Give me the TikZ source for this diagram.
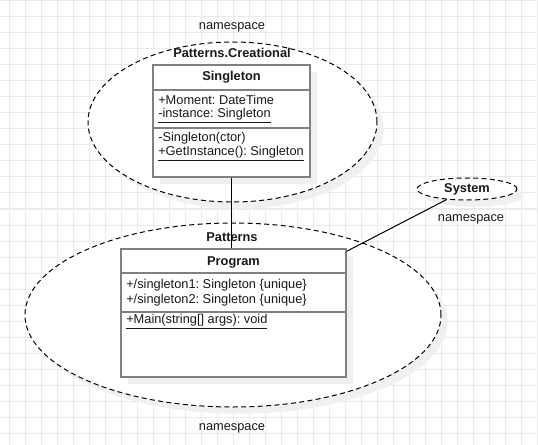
\documentclass[tikz,border=0pt]{standalone}
\usepackage{fontspec}
\setmainfont{Liberation Sans}
\usepackage{tikz}
\usetikzlibrary{shapes,shadows,positioning}

\begin{document}
\frenchspacing
\begin{tikzpicture}[x=0.75pt,y=-0.75pt,font=\fontsize{9.6}{11.5}\selectfont]
  \tikzstyle{grid line}=[draw=black!8,line width=0.75pt]
  \tikzstyle{package}=[ellipse,draw=black,line width=0.75pt,dash pattern=on 3.75pt off 2.5pt,
                       fill=white,inner sep=0pt,
                       drop shadow={shadow xshift=5pt,shadow yshift=-5pt,fill=black!6,opacity=1}]
  \tikzstyle{class box}=[rectangle,draw=black!50,line width=1.1pt,fill=white,inner sep=0pt,
                         drop shadow={shadow xshift=5pt,shadow yshift=-5pt,fill=black!6,opacity=1}]
  \tikzstyle{class line}=[draw=black!50,line width=1.1pt]
  \tikzstyle{member}=[anchor=west,inner sep=0pt,text=black!90]
  \tikzstyle{title}=[inner sep=0pt,text=black!90,font=\fontsize{9.6}{11.5}\selectfont\bfseries]
  \tikzstyle{caption}=[inner sep=0pt,text=black!90]
  \tikzstyle{link}=[draw=black,line width=0.75pt]

  \useasboundingbox (0,0) rectangle (538,445);
  \fill[white] (0,0) rectangle (538,445);
  \foreach \gx in {9,25,...,537}
    \draw[grid line] (\gx,0) -- (\gx,445);
  \foreach \gy in {1,17,...,441}
    \draw[grid line] (0,\gy) -- (538,\gy);

  % namespaces
  \node [package,minimum width=216.75pt,minimum height=120pt] (creational) at (232.5,122) {};
  \node [package,minimum width=312pt,minimum height=138pt] (patterns) at (233,315) {};
  \node [package,minimum width=75pt,minimum height=16.5pt,title] (system) at (467,189) {System};
  \node [caption] (ns1) at (232,27) {namespace};
  \node [title] (creational name) at (232,53) {Patterns.Creational};
  \node [title] (patterns name) at (232,237) {Patterns};
  \node [caption] (ns2) at (232,428) {namespace};
  \node [caption] (ns3) at (471,219) {namespace};

  % class Singleton
  \node [class box,minimum width=117.75pt,minimum height=84pt] (singleton) at (231.5,121) {};
  \draw [class line] (singleton.west |- 0,90) -- (singleton.east |- 0,90);
  \draw [class line] (singleton.west |- 0,128) -- (singleton.east |- 0,128);
  \node [title] (singleton name) at (231.5,77) {Singleton};
  \node [member] (moment) at (158,100) {+Moment: DateTime};
  \node [member] (instance) at (158,116) {\underline{-instance: Singleton}};
  \node [member] (ctor) at (158,138) {-Singleton(ctor)};
  \node [member] (getinstance) at (158,154) {\underline{+GetInstance(): Singleton}};

  % class Program
  \node [class box,minimum width=168.75pt,minimum height=96pt] (program) at (233.5,313) {};
  \draw [class line] (program.west |- 0,273) -- (program.east |- 0,273);
  \draw [class line] (program.west |- 0,312) -- (program.east |- 0,312);
  \node [title] (program name) at (233.5,262) {Program};
  \node [member] (s1) at (126,285) {+/singleton1: Singleton \{unique\}};
  \node [member] (s2) at (126,300) {+/singleton2: Singleton \{unique\}};
  \node [member] (main) at (126,322) {\underline{+Main(string[] args): void}};

  % links
  \coordinate (program corner) at ([yshift=-2.25pt]program.north east);
  \draw [link] (singleton.south) -- (singleton.south |- program.north);
  \draw [link] (system) -- (program corner);
\end{tikzpicture}
\end{document}
